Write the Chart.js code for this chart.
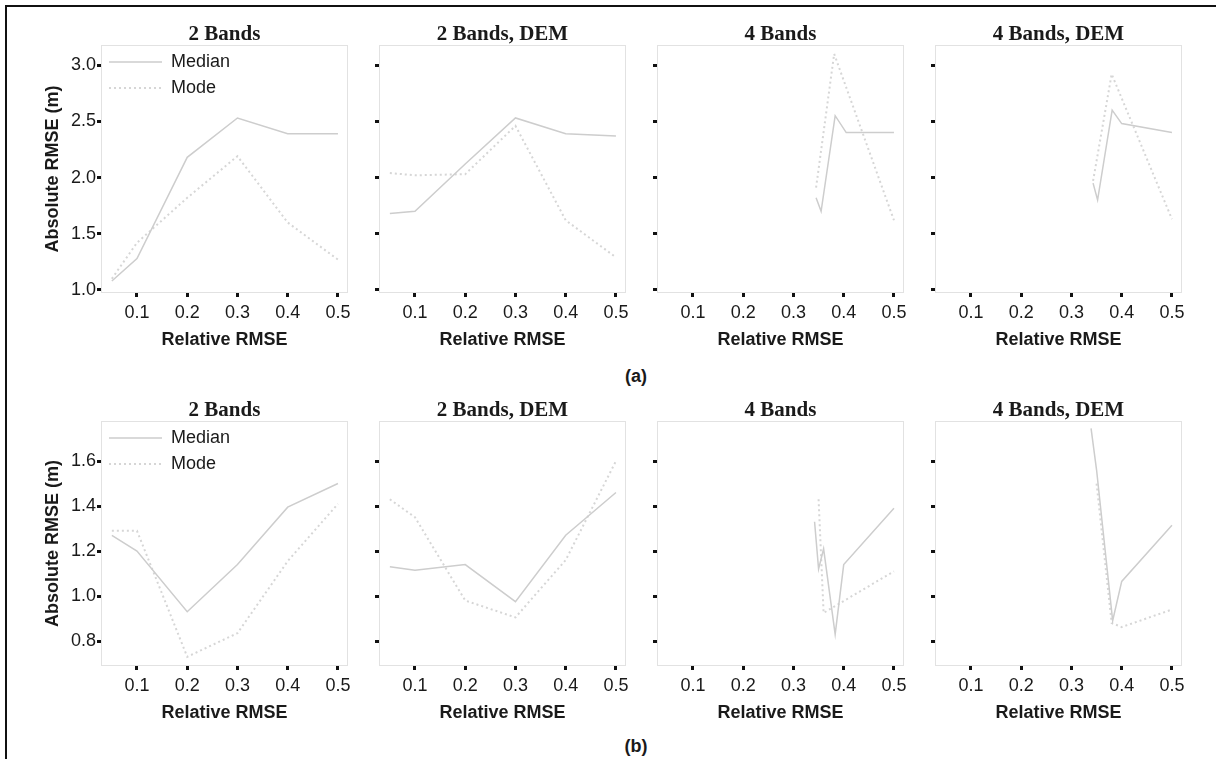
<!DOCTYPE html>
<html>
<head>
<meta charset="utf-8">
<script src="https://cdn.jsdelivr.net/npm/chart.js@4.4.1/dist/chart.umd.min.js"></script>
<style>
body{margin:0;background:#fff;}
#figura{position:relative;width:1216px;height:759px;overflow:hidden;background:#fff;}
#figura canvas{position:absolute;}
.marco-top{position:absolute;left:5px;top:5px;width:1211px;height:2px;background:#111;}
.marco-left{position:absolute;left:5px;top:5px;width:2px;height:754px;background:#111;}
.etiqueta{position:absolute;width:60px;margin-left:-30px;text-align:center;font:bold 18px "Liberation Sans",Arial,sans-serif;color:#1a1a1a;line-height:20px;}
</style>
</head>
<body>
<div id="figura">
<div class="marco-top"></div>
<div class="marco-left"></div>
<canvas id="a0"></canvas><canvas id="a1"></canvas><canvas id="a2"></canvas><canvas id="a3"></canvas>
<canvas id="b0"></canvas><canvas id="b1"></canvas><canvas id="b2"></canvas><canvas id="b3"></canvas>
<div class="etiqueta" style="left:636px;top:366px;">(a)</div>
<div class="etiqueta" style="left:636px;top:736px;">(b)</div>
</div>

<script>

/* DATOS */

const panelTitles = ["2 Bands","2 Bands, DEM","4 Bands","4 Bands, DEM"];
const seriesNames = ["Median","Mode"];

const xTicks = [0.1,0.2,0.3,0.4,0.5];
const yTicksA = [1.0,1.5,2.0,2.5,3.0];
const yTicksB = [0.8,1.0,1.2,1.4,1.6];

const xBands2 = [0.05,0.1,0.2,0.3,0.4,0.5];

// (a)
const a2Median = [1.08,1.28,2.18,2.53,2.39,2.39];
const a2Mode = [1.10,1.42,1.82,2.19,1.60,1.27];
const a2dMedian = [1.68,1.70,2.12,2.53,2.39,2.37];
const a2dMode = [2.04,2.02,2.03,2.46,1.62,1.29];
const a4MedianX = [0.345,0.355,0.383,0.405,0.5];
const a4Median = [1.82,1.70,2.55,2.40,2.40];
const a4ModeX = [0.345,0.381,0.5];
const a4Mode = [1.91,3.10,1.62];
const a4dMedianX = [0.343,0.352,0.381,0.4,0.5];
const a4dMedian = [1.95,1.80,2.60,2.48,2.40];
const a4dModeX = [0.343,0.38,0.5];
const a4dMode = [1.97,2.92,1.63];

// (b)
const b2Median = [1.27,1.20,0.93,1.14,1.395,1.50];
const b2Mode = [1.29,1.29,0.73,0.835,1.155,1.41];
const b2dMedian = [1.13,1.115,1.14,0.975,1.27,1.46];
const b2dMode = [1.43,1.35,0.98,0.905,1.16,1.60];
const b4MedianX = [0.342,0.35,0.36,0.383,0.4,0.5];
const b4Median = [1.33,1.12,1.21,0.83,1.14,1.39];
const b4ModeX = [0.35,0.36,0.5];
const b4Mode = [1.43,0.925,1.11];
const b4dMedianX = [0.339,0.35,0.382,0.4,0.5];
const b4dMedian = [1.745,1.56,0.89,1.065,1.315];
const b4dModeX = [0.35,0.38,0.4,0.5];
const b4dMode = [1.50,0.88,0.862,0.94];


/* AYUDAS */

const sans = '"Liberation Sans", Arial, sans-serif';
const serif = '"Liberation Serif", "Times New Roman", serif';
const texto = "#1a1a1a";

function puntos(xs, ys){
return xs.map(function(x,i){ return {x:x, y:ys[i]}; });
}

// caja gris alrededor del area del grafico
const caja = {
id:"caja",
beforeDatasetsDraw(chart){
const a = chart.chartArea;
const ctx = chart.ctx;
ctx.save();
ctx.strokeStyle = "#e2e2e2";
ctx.lineWidth = 1;
ctx.strokeRect(a.left+0.5, a.top+0.5, a.right-a.left-1, a.bottom-a.top-1);
ctx.restore();
}
};

// la leyenda vertical en "chartArea" queda arriba del todo: se baja al area
const leyendaDentro = {
id:"leyendaDentro",
afterLayout(chart){
if(chart.legend && chart.options.plugins.legend.display){
chart.legend.top = chart.chartArea.top;
chart.legend.bottom = chart.chartArea.bottom;
chart.legend.left = chart.chartArea.left;
}
}
};

// lineas de la leyenda con el mismo trazo que la serie
function etiquetasLeyenda(chart){
const items = Chart.defaults.plugins.legend.labels.generateLabels(chart);
items.forEach(function(it){
const ds = chart.data.datasets[it.datasetIndex];
it.strokeStyle = ds.borderColor;
it.lineWidth = ds.borderWidth;
it.lineDash = ds.borderDash || [];
});
return items;
}

const plotLefts = [101,379,657,935];
const plotWidth = 247;

const filas = {
a:{top:24, plotHeight:248, min:0.973, max:3.179, yTicks:yTicksA,
series:[
[xBands2,a2Median,xBands2,a2Mode],
[xBands2,a2dMedian,xBands2,a2dMode],
[a4MedianX,a4Median,a4ModeX,a4Mode],
[a4dMedianX,a4dMedian,a4dModeX,a4dMode]
]},
b:{top:400, plotHeight:245, min:0.689, max:1.778, yTicks:yTicksB,
series:[
[xBands2,b2Median,xBands2,b2Mode],
[xBands2,b2dMedian,xBands2,b2dMode],
[b4MedianX,b4Median,b4ModeX,b4Mode],
[b4dMedianX,b4dMedian,b4dModeX,b4dMode]
]}
};


/* GRAFICOS */

document.addEventListener("DOMContentLoaded", function(){

Object.keys(filas).forEach(function(key){

const fila = filas[key];

for(let i=0;i<4;i++){

const primero = (i===0);
const ejeY = primero ? 59 : 10;
const left = plotLefts[i] - ejeY;
const width = ejeY + plotWidth + 8;
const height = 21 + fila.plotHeight + 58;

const canvas = document.getElementById(key+i);
canvas.width = width;
canvas.height = height;
canvas.style.left = left+"px";
canvas.style.top = fila.top+"px";
canvas.style.width = width+"px";
canvas.style.height = height+"px";

const s = fila.series[i];

new Chart(canvas,{

type:"scatter",

data:{
datasets:[{
label:seriesNames[0],
data:puntos(s[0],s[1]),
showLine:true,
borderColor:"#cdcdcd",
borderWidth:1.5,
pointRadius:0,
tension:0
},{
label:seriesNames[1],
data:puntos(s[2],s[3]),
showLine:true,
borderColor:"#d6d6d6",
borderWidth:2,
borderDash:[2,3],
pointRadius:0,
tension:0
}]
},

options:{

responsive:false,
animation:false,
devicePixelRatio:1,

layout:{padding:{top:0,right:8,bottom:0,left:0}},

plugins:{
title:{
display:true,
text:panelTitles[i],
fullSize:false,
color:texto,
padding:0,
font:{family:serif,size:21,weight:"bold",lineHeight:1}
},
legend:{
display:primero,
position:"chartArea",
align:"start",
labels:{
usePointStyle:true,
pointStyle:"line",
pointStyleWidth:53,
padding:8,
color:texto,
font:{family:sans,size:18},
generateLabels:etiquetasLeyenda
}
},
tooltip:{enabled:false}
},

scales:{

x:{
type:"linear",
min:0.0284,
max:0.52,
afterBuildTicks:function(scale){ scale.ticks = xTicks.map(function(v){ return {value:v}; }); },
afterFit:function(scale){ scale.height = 58; },
ticks:{
autoSkip:false,
maxRotation:0,
padding:5,
color:texto,
font:{family:sans,size:18},
callback:function(v){ return Number(v).toFixed(1); }
},
grid:{drawOnChartArea:false,drawTicks:true,tickLength:4,tickWidth:3,tickColor:"#111"},
border:{display:false},
title:{
display:true,
text:"Relative RMSE",
color:texto,
padding:0,
font:{family:sans,size:18,weight:"bold"}
}
},

y:{
type:"linear",
min:fila.min,
max:fila.max,
afterBuildTicks:function(scale){ scale.ticks = fila.yTicks.map(function(v){ return {value:v}; }); },
afterFit:function(scale){ scale.width = ejeY; },
ticks:{
display:primero,
padding:1,
color:texto,
font:{family:sans,size:18},
callback:function(v){ return Number(v).toFixed(1); }
},
grid:{drawOnChartArea:false,drawTicks:true,tickLength:4,tickWidth:3,tickColor:"#111"},
border:{display:false},
title:{
display:primero,
text:"Absolute RMSE (m)",
color:texto,
padding:0,
font:{family:sans,size:18,weight:"bold"}
}
}

}

},

plugins:[caja,leyendaDentro]

});

}

});

});

</script>
</body>
</html>
